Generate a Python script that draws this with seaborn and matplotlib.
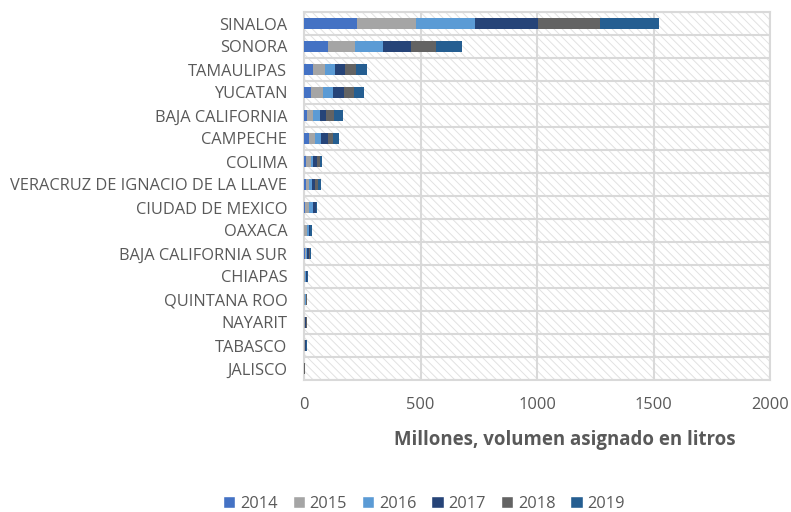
import pandas as pd
import numpy as np
import matplotlib.pyplot as plt
from matplotlib.patches import Patch
import seaborn as sb

# volumen asignado (millones de litros) por estado y año
states = ["SINALOA", "SONORA", "TAMAULIPAS", "YUCATAN", "BAJA CALIFORNIA",
          "CAMPECHE", "COLIMA", "VERACRUZ DE IGNACIO DE LA LLAVE",
          "CIUDAD DE MEXICO", "OAXACA", "BAJA CALIFORNIA SUR", "CHIAPAS",
          "QUINTANA ROO", "NAYARIT", "TABASCO", "JALISCO"]
years = ["2014", "2015", "2016", "2017", "2018", "2019"]
v2014 = [229, 102, 40, 29, 14, 20, 10, 7, 4, 2, 3, 1, 1, 1, 1, 0.5]
v2015 = [253, 119, 49, 53, 26, 29, 19, 14, 17, 10, 6, 4, 3, 2, 2, 0.5]
v2016 = [254, 119, 43, 43, 29, 26, 11, 14, 16, 8, 5, 5, 3, 2, 2, 0.5]
v2017 = [267, 119, 46, 46, 24, 26, 14, 13, 13, 4, 6, 2, 3, 4, 2, 0.5]
v2018 = [268, 108, 46, 43, 37, 24, 14, 11, 2, 3, 5, 3, 2, 2, 2, 0.5]
v2019 = [254, 109, 45, 45, 36, 24, 11, 13, 3, 6, 5, 2, 2, 2, 2, 0.5]
colors = ["#4472C4", "#A5A5A5", "#5B9BD5", "#264478", "#636363", "#255E91"]

TEXT = "#595959"
GRID = "#D9D9D9"

if __name__ == '__main__':
    df = pd.DataFrame({"estado": states, "2014": v2014, "2015": v2015, "2016": v2016,
                       "2017": v2017, "2018": v2018, "2019": v2019})
    cum = df[years].cumsum(axis=1)
    cum["estado"] = df["estado"]

    sb.set_style("white")
    plt.rcParams['font.family'] = ['Open Sans', 'DejaVu Sans']
    plt.rcParams['hatch.linewidth'] = 0.7

    fig = plt.figure(figsize=(7.91, 5.12), dpi=100)
    ax = fig.add_axes([304 / 791, 1 - 380 / 512, 466 / 791, 368 / 512])

    # stacked bars: draw totals from last year to first so each segment shows
    for y, c in reversed(list(zip(years, colors))):
        sb.barplot(data=cum, x=y, y="estado", order=states, color=c,
                   width=0.48, saturation=1, ax=ax, zorder=3, linewidth=0)

    # hatched plot area
    ax.patch.set_facecolor("white")
    ax.patch.set_hatch("\\\\\\\\")
    ax.patch.set_edgecolor("#E2E2E2")

    ax.set_xlim(0, 2000)
    ax.set_ylim(len(states) - 0.5, -0.5)
    ax.set_xticks([0, 500, 1000, 1500, 2000])
    ax.set_yticks(np.arange(-0.5, len(states), 1), minor=True)
    ax.grid(axis="x", which="major", color=GRID, linewidth=1.5, zorder=1)
    ax.grid(axis="y", which="minor", color=GRID, linewidth=1.5, zorder=1)
    ax.set_axisbelow(True)
    for s in ax.spines.values():
        s.set_color(GRID)
        s.set_linewidth(1.5)

    ax.tick_params(axis="both", which="both", length=0, colors=TEXT, labelsize=11.8)
    ax.tick_params(axis="x", pad=12)
    ax.tick_params(axis="y", pad=12)
    ax.set_ylabel("")
    ax.set_xlabel("Millones, volumen asignado en litros", fontsize=13.4,
                  fontweight="bold", color=TEXT)
    ax.xaxis.set_label_coords(0.56, -0.135)

    handles = [Patch(facecolor=c, label=y) for y, c in zip(years, colors)]
    leg = fig.legend(handles=handles, loc="center", ncol=6,
                     bbox_to_anchor=(424 / 791, 1 - 504 / 512), frameon=False,
                     fontsize=11.8, handlelength=0.75, handleheight=0.75,
                     handletextpad=0.3, columnspacing=0.9)
    for t in leg.get_texts():
        t.set_color(TEXT)

    fig.savefig("out.png", dpi=100)
